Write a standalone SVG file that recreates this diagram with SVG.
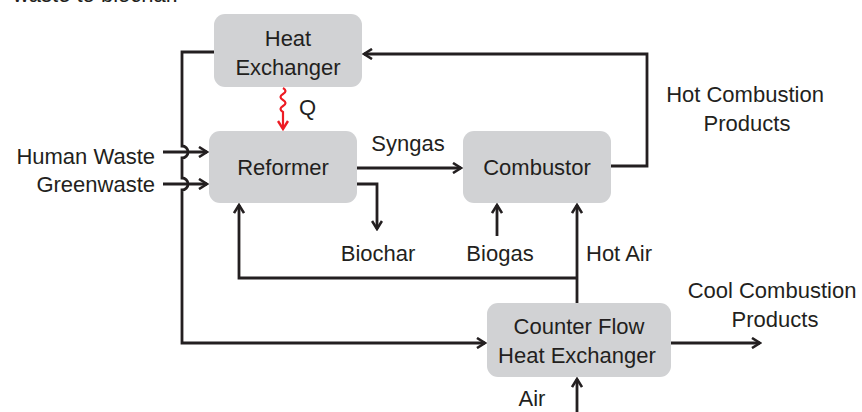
<svg xmlns="http://www.w3.org/2000/svg" width="862" height="412" viewBox="0 0 862 412">
<defs>
<style>
.box{fill:#d1d2d4;}
.t{font-family:"Liberation Sans",Arial,sans-serif;font-size:22px;fill:#231f20;}
.c{text-anchor:middle;}
.ln{fill:none;stroke:#231f20;stroke-width:2.8;stroke-linejoin:miter;}
.red{fill:none;stroke:#ed1c24;stroke-width:2.2;}
</style>
<marker id="ah" viewBox="0 0 12 12" refX="10" refY="6" markerWidth="12" markerHeight="12" markerUnits="userSpaceOnUse" orient="auto">
<path d="M2,1 L10,6 L2,11" fill="none" stroke="#231f20" stroke-width="2.6"/>
</marker>
<marker id="ahr" viewBox="0 0 12 12" refX="10" refY="6" markerWidth="12" markerHeight="12" markerUnits="userSpaceOnUse" orient="auto">
<path d="M2,1 L10,6 L2,11" fill="none" stroke="#ed1c24" stroke-width="2.4"/>
</marker>
</defs>
<rect width="862" height="412" fill="#fff"/>
<text class="t" x="178" y="2" text-anchor="end">waste to biochar.</text>

<g id="heat-exchanger">
<rect class="box" x="214" y="14" width="148" height="73" rx="11"/>
<text class="t c" x="288" y="46">Heat</text>
<text class="t c" x="288" y="75">Exchanger</text>
</g>
<g id="reformer">
<rect class="box" x="209" y="131" width="148" height="72" rx="11"/>
<text class="t c" x="283" y="175">Reformer</text>
</g>
<g id="combustor">
<rect class="box" x="463" y="131" width="148" height="72" rx="11"/>
<text class="t c" x="537" y="175">Combustor</text>
</g>
<g id="counter-flow">
<rect class="box" x="487" y="303" width="184" height="74" rx="11"/>
<text class="t c" x="579" y="334">Counter Flow</text>
<text class="t c" x="577" y="363">Heat Exchanger</text>
</g>

<g id="connectors">
<path class="ln" d="M611,166 H647 V54 H364" marker-end="url(#ah)"/>
<path class="ln" d="M214,52 H182 V146 A6,6 0 0 1 182,158 V178 A6,6 0 0 1 182,190 V343 H485" marker-end="url(#ah)"/>
<path class="ln" d="M163,152 H207" marker-end="url(#ah)"/>
<path class="ln" d="M163,184 H207" marker-end="url(#ah)"/>
<path class="ln" d="M357,168 H461" marker-end="url(#ah)"/>
<path class="ln" d="M357,184 H377 V229" marker-end="url(#ah)"/>
<path class="ln" d="M497,236 V205" marker-end="url(#ah)"/>
<path class="ln" d="M577,303 V205" marker-end="url(#ah)"/>
<path class="ln" d="M577,278 H239 V205" marker-end="url(#ah)"/>
<path class="ln" d="M671,343 H760" marker-end="url(#ah)"/>
<path class="ln" d="M577,412 V379" marker-end="url(#ah)"/>
<path class="red" d="M283,88 q5,3 0,6 q-5,3 0,6 q5,3 0,6 q-5,3 0,6 V129" marker-end="url(#ahr)"/>
</g>

<g id="labels">
<text class="t" x="299" y="115">Q</text>
<text class="t c" x="408" y="151">Syngas</text>
<text class="t c" x="378" y="261">Biochar</text>
<text class="t c" x="500" y="261">Biogas</text>
<text class="t" x="586" y="261">Hot Air</text>
<text class="t c" x="745" y="102">Hot Combustion</text>
<text class="t c" x="747" y="131">Products</text>
<text class="t c" x="772" y="298">Cool Combustion</text>
<text class="t c" x="775" y="327">Products</text>
<text class="t c" x="532" y="406">Air</text>
<text class="t" x="155" y="164" text-anchor="end">Human Waste</text>
<text class="t" x="155" y="192" text-anchor="end">Greenwaste</text>
</g>
</svg>
